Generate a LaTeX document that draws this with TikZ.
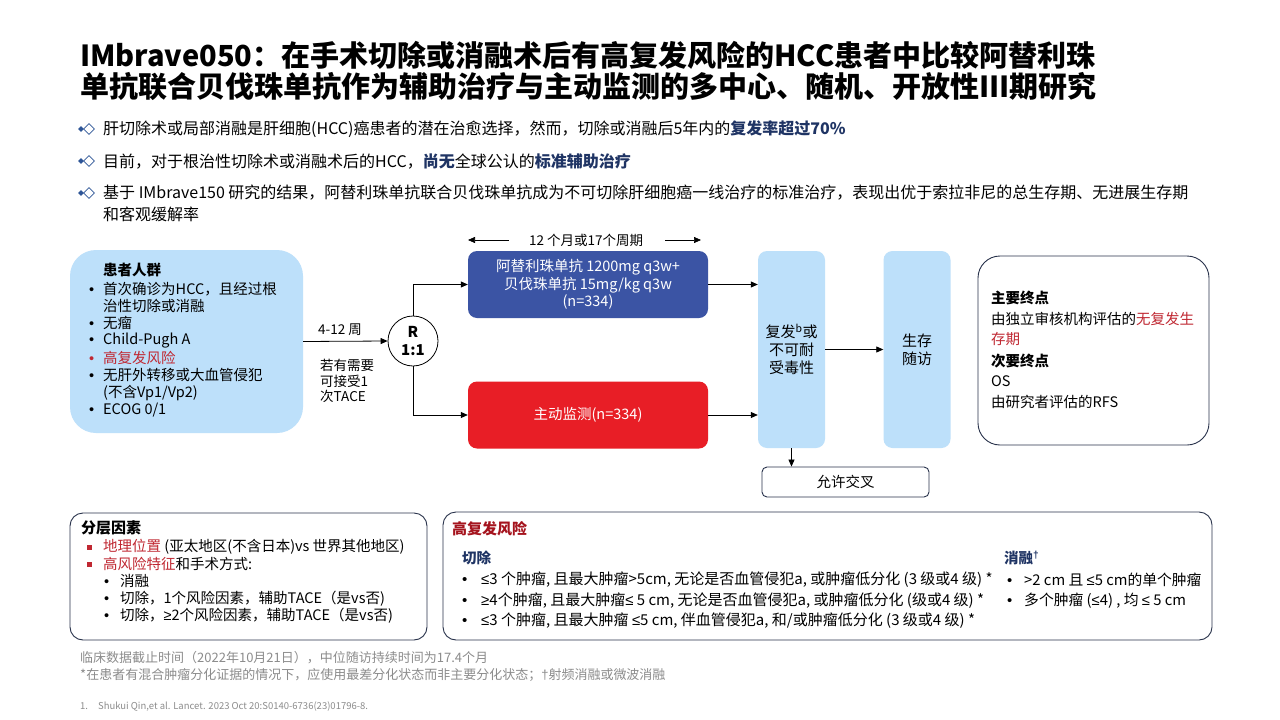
\documentclass[tikz,border=0pt]{standalone}
\usepackage{fontspec}
\setmainfont{Noto Sans CJK SC}
\newfontfamily\libsans{Liberation Sans}
\newcommand{\Le}{{\libsans ≤}}
\newcommand{\Ge}{{\libsans ≥}}
\newcommand{\Bul}{{\libsans •}}
\newcommand{\Dg}{{\libsans †}}
\usetikzlibrary{shapes.geometric,arrows.meta}
\definecolor{lblue}{RGB}{189,224,250}
\definecolor{dblue}{RGB}{59,84,164}
\definecolor{bred}{RGB}{232,30,38}
\definecolor{navy}{RGB}{31,52,100}
\definecolor{mblue}{RGB}{46,85,151}
\definecolor{rtxt}{RGB}{192,40,50}
\definecolor{drd}{RGB}{165,20,30}
\definecolor{frm}{RGB}{40,50,75}
\definecolor{gtxt}{RGB}{140,140,140}
\newcommand{\fs}[2]{\fontsize{#1}{#2}\selectfont}
\begin{document}
\begin{tikzpicture}[x=1pt,y=-1pt,
  txt/.style={anchor=west,inner sep=0pt,font=\fs{14.5}{17}},
  btxt/.style={anchor=west,inner sep=0pt,font=\fs{16}{18}},
  htxt/.style={anchor=west,inner sep=0pt,font=\fs{15}{16}},
  hrtxt/.style={anchor=west,inner sep=0pt,font=\fs{14.8}{16}},
  ftxt/.style={anchor=west,inner sep=0pt,font=\fs{13}{15},text=gtxt},
  ttl/.style={anchor=west,inner sep=0pt,font=\fs{29}{31}\bfseries},
  arr/.style={draw=black,line width=0.8pt,-{Triangle[length=7pt,width=6pt]}},
  colbox/.style={fill=lblue,rounded corners=9pt,minimum width=67pt,minimum height=197pt,inner sep=0pt,align=center,font=\fs{15}{18}},
  armbox/.style={rounded corners=9pt,minimum width=240pt,minimum height=67pt,inner sep=0pt,align=center,text=white,font=\fs{14.5}{17.5}},
  frame/.style={draw=frm,line width=0.9pt,fill=white,inner sep=0pt},
  fdia/.style={diamond,fill=mblue,inner sep=0pt,minimum size=6pt},
  odia/.style={diamond,draw=mblue,line width=0.8pt,inner sep=0pt,minimum size=11pt},
  sqb/.style={rectangle,fill=rtxt,inner sep=0pt,minimum size=5pt}
]
\useasboundingbox[fill=white] (0,0) rectangle (1280,720);

% title
\node[ttl] (t1) at (80,55) {IMbrave050：在手术切除或消融术后有高复发风险的HCC患者中比较阿替利珠};
\node[ttl] (t2) at (80,86) {单抗联合贝伐珠单抗作为辅助治疗与主动监测的多中心、随机、开放性III期研究};

% top bullets
\foreach \yy/\nm in {129/a,161/b,193/c}{
  \node[fdia] (fd\nm) at (81,\yy) {};
  \node[odia] (od\nm) at (89,\yy) {};
}
\node[btxt] (b1) at (103,129) {肝切除术或局部消融是肝细胞(HCC)癌患者的潜在治愈选择，然而，切除或消融后5年内的{\bfseries\color{navy}复发率超过70\%}};
\node[btxt] (b2) at (103,161) {目前，对于根治性切除术或消融术后的HCC，{\bfseries\color{navy}尚无}全球公认的{\bfseries\color{navy}标准辅助治疗}};
\node[btxt] (b3) at (103,193) {基于 IMbrave150 研究的结果，阿替利珠单抗联合贝伐珠单抗成为不可切除肝细胞癌一线治疗的标准治疗，表现出优于索拉非尼的总生存期、无进展生存期};
\node[btxt] (b3b) at (103,214) {和客观缓解率};

% patient box
\node[fill=lblue,rounded corners=26pt,minimum width=233pt,minimum height=183pt,inner sep=0pt] (pat) at (186.5,341.5) {};
\node[txt,font=\fs{14.5}{17}\bfseries] (p0) at (103,270) {患者人群};
\node[txt] (p1) at (89,289) {\makebox[14pt][l]{\Bul}首次确诊为HCC，且经过根};
\node[txt] (p1b) at (103,306) {治性切除或消融};
\node[txt] (p2) at (89,323) {\makebox[14pt][l]{\Bul}无瘤};
\node[txt] (p3) at (89,341) {\makebox[14pt][l]{\Bul}Child-Pugh A};
\node[txt,text=rtxt] (p4) at (89,358) {\makebox[14pt][l]{\Bul}高复发风险};
\node[txt] (p5) at (89,375) {\makebox[14pt][l]{\Bul}无肝外转移或大血管侵犯};
\node[txt] (p5b) at (103,393) {(不含Vp1/Vp2)};
\node[txt] (p6) at (89,410) {\makebox[14pt][l]{\Bul}ECOG 0/1};

% randomisation
\node[circle,draw=black,line width=0.8pt,fill=white,minimum size=50pt,inner sep=0pt,align=center,font=\fs{15}{18}\bfseries] (R) at (413,341) {R\\1:1};
\draw[arr] (pat.east) -- (R.west);
\node[txt,font=\fs{13.5}{16}] (wk) at (318,330) {4-12 周};
\node[txt,font=\fs{13.5}{16}] (ta1) at (320,365) {若有需要};
\node[txt,font=\fs{13.5}{16}] (ta2) at (320,381) {可接受1};
\node[txt,font=\fs{13.5}{16}] (ta3) at (320,396) {次TACE};

% arms
\node[armbox,fill=dblue] (blue) at (588,284.5) {阿替利珠单抗 1200mg q3w+\\贝伐珠单抗 15mg/kg q3w\\(n=334)};
\node[armbox,fill=bred] (red) at (588,415) {主动监测(n=334)};
\draw[arr] (R.north) |- (blue.west);
\draw[arr] (R.south) |- (red.west);

% duration
\node[inner sep=0pt,font=\fs{13.5}{16}] (dur) at (586,240) {12 个月或17个周期};
\coordinate (dl) at (468,240);
\coordinate (dr) at (701,240);
\draw[arr,line width=0.7pt] ([xshift=-20pt]dur.west) -- (dl);
\draw[arr,line width=0.7pt] ([xshift=22pt]dur.east) -- (dr);

% columns
\node[colbox] (c1) at (791.5,349.5) {复发\textsuperscript{b}或\\不可耐\\受毒性};
\node[colbox] (c2) at (917,349.5) {生存\\随访};
\draw[arr] (blue.east) -- (blue.east -| c1.west);
\draw[arr] (red.east) -- (red.east -| c1.west);
\draw[arr] (c1.east) -- (c2.west);

% crossover
\node[frame,rounded corners=5pt,minimum width=167pt,minimum height=30pt,font=\fs{14.5}{17}] (cx) at (845.5,482) {允许交叉};
\draw[arr] (c1.south) -- (c1.south |- cx.north);

% endpoints
\node[frame,rounded corners=22pt,minimum width=231pt,minimum height=189pt] (ep) at (1093.5,350.5) {};
\node[txt,font=\fs{14.5}{17}\bfseries] (e1) at (991,298) {主要终点};
\node[txt] (e2) at (991,319) {由独立审核机构评估的{\color{rtxt}无复发生}};
\node[txt,text=rtxt] (e3) at (991,339) {存期};
\node[txt,font=\fs{14.5}{17}\bfseries] (e4) at (991,361) {次要终点};
\node[txt] (e5) at (991,381) {OS};
\node[txt] (e6) at (991,402) {由研究者评估的RFS};

% stratification
\node[frame,rounded corners=13pt,minimum width=357pt,minimum height=127pt] (st) at (248.5,576.5) {};
\node[txt,font=\fs{15}{17}\bfseries] (s0) at (81,528) {分层因素};
\node[sqb] (sq1) at (89,547) {};
\node[sqb] (sq2) at (89,564) {};
\node[txt] (s1) at (103,547) {{\color{rtxt}地理位置} (亚太地区(不含日本)vs 世界其他地区)};
\node[txt] (s2) at (103,564) {{\color{rtxt}高风险特征}和手术方式:};
\node[txt] (s3) at (104,581) {\makebox[16pt][l]{\Bul}消融};
\node[txt] (s4) at (104,599) {\makebox[16pt][l]{\Bul}切除，1个风险因素，辅助TACE（是vs否)};
\node[txt] (s5) at (104,616) {\makebox[16pt][l]{\Bul}切除，\Ge2个风险因素，辅助TACE（是vs否)};

% high risk
\node[frame,rounded corners=13pt,minimum width=769pt,minimum height=128pt] (hr) at (827.5,576) {};
\node[txt,font=\fs{15}{17}\bfseries,text=drd] (h0) at (452,529) {高复发风险};
\node[txt,font=\fs{14.5}{17}\bfseries,text=navy] (h1) at (462,558) {切除};
\node[htxt] (h2) at (462,580) {\makebox[19pt][l]{\Bul}\Le3 个肿瘤, 且最大肿瘤>5cm, 无论是否血管侵犯a, 或肿瘤低分化 (3 级或4 级) *};
\node[htxt] (h3) at (462,601) {\makebox[19pt][l]{\Bul}\Ge4个肿瘤, 且最大肿瘤\Le{} 5 cm, 无论是否血管侵犯a, 或肿瘤低分化 (级或4 级) *};
\node[htxt] (h4) at (462,621) {\makebox[19pt][l]{\Bul}\Le3 个肿瘤, 且最大肿瘤 \Le5 cm, 伴血管侵犯a, 和/或肿瘤低分化 (3 级或4 级) *};
\node[txt,font=\fs{14.5}{17}\bfseries,text=navy] (h5) at (1004,558) {消融\textsuperscript{\Dg}};
\node[hrtxt] (h6) at (1007,580) {\makebox[17pt][l]{\Bul}>2 cm 且 \Le5 cm的单个肿瘤};
\node[hrtxt] (h7) at (1007,601) {\makebox[17pt][l]{\Bul}多个肿瘤 (\Le4) , 均 \Le{} 5 cm};

% footnotes
\node[ftxt] (f1) at (80,658) {临床数据截止时间（2022年10月21日），中位随访持续时间为17.4个月};
\node[ftxt] (f2) at (80,675) {*在患者有混合肿瘤分化证据的情况下，应使用最差分化状态而非主要分化状态；\Dg 射频消融或微波消融};
\node[ftxt,font=\fs{9.5}{11}] (f3) at (80,707) {1.\hspace{10pt}Shukui Qin,et al. Lancet. 2023 Oct 20:S0140-6736(23)01796-8.};
\end{tikzpicture}
\end{document}
